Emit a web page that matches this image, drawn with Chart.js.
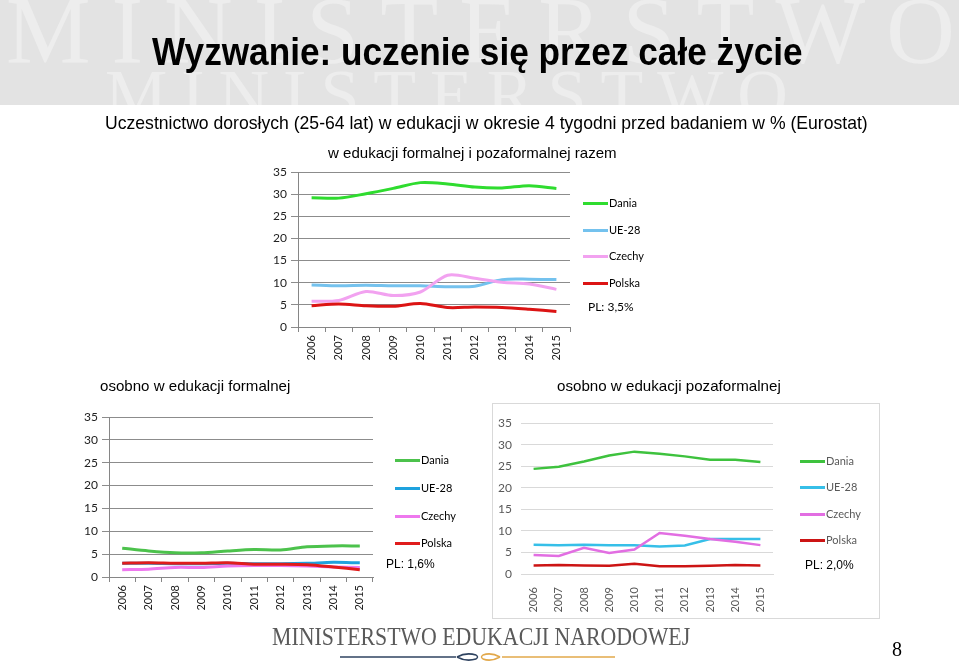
<!DOCTYPE html>
<html>
<head>
<meta charset="utf-8">
<script src="https://cdn.jsdelivr.net/npm/chart.js@4.4.1/dist/chart.umd.min.js"></script>
<style>
  html, body { margin: 0; padding: 0; background: #fff; }
  body { width: 959px; height: 661px; position: relative; overflow: hidden; font-family: "Liberation Sans", Arial, sans-serif; }
  .abs { position: absolute; white-space: nowrap; line-height: 1; transform-origin: 0 0; }
  canvas.chart { position: absolute; }
  .key { position: absolute; height: 0; white-space: nowrap; }
  .key i { position: absolute; left: 0; top: -1.5px; width: 25px; height: 3px; }
  .key span { position: absolute; left: 26px; top: -7px; font-size: 11px; font-family: Lato, sans-serif; line-height: 14px; white-space: nowrap; }
  .frame { position: absolute; left: 492px; top: 403px; width: 386px; height: 214px; border: 1px solid #d9d9d9; }
</style>
</head>
<body>
<canvas id="bg" width="959" height="661" style="position:absolute;left:0;top:0"></canvas>
<div class="frame"></div>

<div class="abs fit" data-w="651" style="left:152px;top:33px;font-size:38px;font-weight:bold;">Wyzwanie: uczenie się przez całe życie</div>
<div class="abs fit" data-w="763" style="left:105px;top:113px;font-size:19px;">Uczestnictwo dorosłych (25-64 lat) w edukacji w okresie 4 tygodni przed badaniem w % (Eurostat)</div>
<div class="abs fit" data-w="289" style="left:328px;top:145px;font-size:15px;">w edukacji formalnej i pozaformalnej razem</div>
<div class="abs fit" data-w="190" style="left:100px;top:378px;font-size:15px;">osobno w edukacji formalnej</div>
<div class="abs fit" data-w="224" style="left:557px;top:378px;font-size:15px;">osobno w edukacji pozaformalnej</div>
<div class="abs fit" data-w="418" style="left:272px;top:624px;font-size:25px;font-family:'Liberation Serif',serif;color:#5a5a5a;">MINISTERSTWO EDUKACJI NARODOWEJ</div>
<div class="abs" style="left:892px;top:639px;font-size:20px;font-family:'Liberation Serif',serif;">8</div>

<canvas id="total" class="chart"></canvas>
<canvas id="formal" class="chart"></canvas>
<canvas id="nonformal" class="chart"></canvas>

<script>
const years = ['2006', '2007', '2008', '2009', '2010', '2011', '2012', '2013', '2014', '2015'];
const countries = ['Dania', 'UE-28', 'Czechy', 'Polska'];

// w edukacji formalnej i pozaformalnej razem
const totalDania = [29.2, 29.1, 30.1, 31.3, 32.6, 32.3, 31.6, 31.4, 31.9, 31.3];
const totalUE = [9.5, 9.3, 9.4, 9.3, 9.3, 9.1, 9.2, 10.7, 10.8, 10.7];
const totalCzechy = [5.8, 6.0, 8.0, 7.1, 7.9, 11.7, 11.0, 10.1, 9.7, 8.5];
const totalPolska = [4.8, 5.2, 4.8, 4.7, 5.3, 4.4, 4.5, 4.4, 4.0, 3.5];

// osobno w edukacji formalnej
const formalDania = [6.3, 5.7, 5.3, 5.3, 5.7, 6.0, 5.9, 6.6, 6.8, 6.8];
const formalUE = [3.0, 3.0, 2.9, 2.9, 3.0, 2.9, 2.9, 3.0, 3.2, 3.1];
const formalCzechy = [1.6, 1.7, 2.1, 2.1, 2.4, 2.5, 2.5, 2.4, 2.2, 2.1];
const formalPolska = [3.0, 3.1, 3.0, 3.0, 3.1, 2.8, 2.8, 2.7, 2.2, 1.6];

// osobno w edukacji pozaformalnej
const nonformalDania = [24.4, 24.9, 26.1, 27.5, 28.4, 27.9, 27.3, 26.5, 26.5, 26.0];
const nonformalUE = [6.8, 6.7, 6.8, 6.7, 6.7, 6.4, 6.6, 8.1, 8.1, 8.1];
const nonformalCzechy = [4.4, 4.2, 6.1, 4.9, 5.7, 9.5, 8.9, 8.1, 7.5, 6.7];
const nonformalPolska = [2.0, 2.1, 2.0, 1.9, 2.4, 1.8, 1.8, 1.9, 2.1, 2.0];

const yTicksMax = 35;
const yTicksStep = 5;

// background: grey header band with watermark, footer ornament
(function drawBackground() {
  const ctx = document.getElementById('bg').getContext('2d');
  ctx.fillStyle = '#e3e3e3';
  ctx.fillRect(0, 0, 959, 105);
  ctx.save();
  ctx.beginPath();
  ctx.rect(0, 0, 959, 105);
  ctx.clip();
  ctx.fillStyle = '#ededed';
  ctx.font = '95px "Liberation Serif", serif';
  ctx.letterSpacing = '21px';
  ctx.fillText('MINISTERSTWO', 6, 63);
  ctx.font = '70px "Liberation Serif", serif';
  ctx.letterSpacing = '14px';
  ctx.fillText('MINISTERSTWO', 105, 118);
  ctx.restore();

  // ornament under the footer
  ctx.lineWidth = 1.5;
  ctx.strokeStyle = '#2f4360';
  ctx.beginPath(); ctx.moveTo(340, 657); ctx.lineTo(456, 657); ctx.stroke();
  ctx.beginPath();
  ctx.moveTo(457, 657); ctx.quadraticCurveTo(466, 652, 476, 655);
  ctx.quadraticCurveTo(479, 657, 476, 659); ctx.quadraticCurveTo(466, 662, 457, 657);
  ctx.stroke();
  ctx.strokeStyle = '#e2a84a';
  ctx.beginPath();
  ctx.moveTo(500, 657); ctx.quadraticCurveTo(491, 652, 483, 655);
  ctx.quadraticCurveTo(480, 657, 483, 659); ctx.quadraticCurveTo(491, 662, 500, 657);
  ctx.stroke();
  ctx.beginPath(); ctx.moveTo(502, 657); ctx.lineTo(615, 657); ctx.stroke();
})();

function fitTexts() {
  document.querySelectorAll('.fit').forEach(el => {
    const w = el.offsetWidth;
    el.style.transform = 'scaleX(' + (Number(el.dataset.w) / w) + ')';
  });
}

function addKey(x, ys, colors, textColor, note, noteX, noteY, noteFont) {
  countries.forEach((name, i) => {
    const k = document.createElement('div');
    k.className = 'key';
    k.style.left = x + 'px';
    k.style.top = ys[i] + 'px';
    k.innerHTML = '<i style="background:' + colors[i] + '"></i><span style="color:' + textColor + '">' + name + '</span>';
    document.body.appendChild(k);
  });
  const n = document.createElement('div');
  n.className = 'abs';
  n.style.left = noteX + 'px';
  n.style.top = (noteY - 6) + 'px';
  n.style.font = noteFont;
  n.style.lineHeight = '12px';
  n.textContent = note;
  document.body.appendChild(n);
}

function makeChart(id, area, m, series, colors, look) {
  const cv = document.getElementById(id);
  cv.width = area.r - area.l + m.l + m.r;
  cv.height = area.b - area.t + m.t + m.b;
  cv.style.left = (area.l - m.l) + 'px';
  cv.style.top = (area.t - m.t) + 'px';

  const datasets = series.map((data, i) => ({
    label: countries[i],
    data: data,
    borderColor: colors[i],
    backgroundColor: colors[i],
    borderWidth: look.width,
    pointRadius: 0,
    tension: look.tension,
    fill: false,
    order: series.length - 1 - i
  }));

  return new Chart(cv, {
    type: 'line',
    data: { labels: years, datasets: datasets },
    options: {
      responsive: false,
      animation: false,
      layout: { padding: { top: m.t, right: m.r, left: 0, bottom: 0 } },
      plugins: { legend: { display: false }, tooltip: { enabled: false } },
      scales: {
        x: {
          offset: true,
          grid: { display: look.xTicks, drawOnChartArea: false, offset: true, tickLength: 5, color: look.axis },
          border: { display: true, color: look.axis },
          ticks: { minRotation: 90, maxRotation: 90, color: look.text, font: { family: 'Lato', size: 11 }, padding: look.xPad },
          afterFit: s => { s.height = m.b; }
        },
        y: {
          min: 0,
          max: yTicksMax,
          ticks: { stepSize: yTicksStep, color: look.text, font: { family: 'Lato', size: 12 }, padding: look.yPad },
          grid: { color: look.grid, tickLength: look.yTick, drawTicks: look.yTick > 0 },
          border: { display: look.yLine, color: look.axis },
          afterFit: s => { s.width = m.l; }
        }
      }
    }
  });
}

const totalColors = ['#2fdc2f', '#74c2ee', '#f2a2f0', '#dc1414'];
const formalColors = ['#4cc24c', '#1ea2de', '#ee78ee', '#e01c1c'];
const nonformalColors = ['#3ec23e', '#36bfe8', '#e26ee2', '#cc1414'];

const excel2010 = { width: 3, tension: 0.3, xTicks: true, axis: '#868686', grid: '#8c8c8c', text: '#222', yTick: 7, yLine: true, yPad: 4, xPad: 3 };
const excel2013 = { width: 2.5, tension: 0, xTicks: false, axis: '#d9d9d9', grid: '#d9d9d9', text: '#595959', yTick: 0, yLine: false, yPad: 9, xPad: 8 };

makeChart('total', { l: 298, t: 172, r: 570, b: 327 }, { l: 45, t: 12, r: 10, b: 42 },
  [totalDania, totalUE, totalCzechy, totalPolska], totalColors, excel2010);
makeChart('formal', { l: 109, t: 417, r: 373, b: 577 }, { l: 30, t: 12, r: 10, b: 42 },
  [formalDania, formalUE, formalCzechy, formalPolska], formalColors, excel2010);
makeChart('nonformal', { l: 521, t: 419, r: 773, b: 574 }, { l: 30, t: 12, r: 10, b: 42 },
  [nonformalDania, nonformalUE, nonformalCzechy, nonformalPolska], nonformalColors, excel2013);

addKey(583, [203, 230, 256, 283], totalColors, '#000', 'PL: 3,5%', 588, 307, '12px Lato, sans-serif');
addKey(395, [460, 488, 516, 543], formalColors, '#000', 'PL: 1,6%', 386, 564, '12px "Liberation Sans", Arial, sans-serif');
addKey(800, [461, 487, 514, 540], nonformalColors, '#595959', 'PL: 2,0%', 805, 565, '12px "Liberation Sans", Arial, sans-serif');

fitTexts();
</script>
</body>
</html>
